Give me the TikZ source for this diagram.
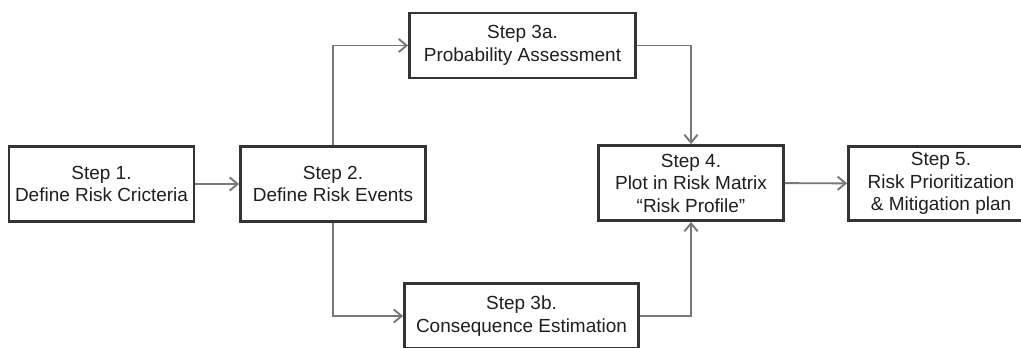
\documentclass[tikz,border=0pt]{standalone}
\usepackage{fontspec}
\setmainfont{Liberation Sans}
\usepackage{tikz}
\usetikzlibrary{arrows.meta}
\definecolor{myboxgray}{rgb}{0.2,0.2,0.2}
\definecolor{myarrowgray}{rgb}{0.47,0.47,0.47}
\definecolor{mytextgray}{rgb}{0.12,0.12,0.12}

\begin{document}
\begin{tikzpicture}[x=0.02cm,y=-0.02cm,
    stepbox/.style={draw=myboxgray,line width=1.6pt,fill=white,align=center,
      inner sep=0pt,text=mytextgray,font=\fontsize{10.8}{12.8}\selectfont},
    flowarrow/.style={draw=myarrowgray,line width=1.1pt,
      -{Straight Barb[length=4.5pt,width=7.5pt,line width=1.1pt]}}]
  \useasboundingbox (0,0) rectangle (1021,348);
  % boxes
  \node[stepbox,minimum width=3.7cm,minimum height=1.5cm] (s1) at (101.5,184) {Step 1.\\Define Risk Cricteria};
  \node[stepbox,minimum width=3.7cm,minimum height=1.5cm] (s2) at (333,184) {Step 2.\\Define Risk Events};
  \node[stepbox,minimum width=4.52cm,minimum height=1.3cm] (s3a) at (522.5,45.5) {Step 3a.\\Probability Assessment};
  \node[stepbox,minimum width=4.68cm,minimum height=1.3cm] (s3b) at (521.5,316) {Step 3b.\\Consequence Estimation};
  \node[stepbox,minimum width=3.7cm,minimum height=1.5cm] (s4) at (691,183) {Step 4.\\Plot in Risk Matrix\\``Risk Profile''};
  \node[stepbox,minimum width=3.7cm,minimum height=1.48cm] (s5) at (941,183.5) {Step 5.\\Risk Prioritization\\\& Mitigation plan};
  % connectors
  \draw[flowarrow] (s1) -- (s2);
  \draw[flowarrow] (s2.north) |- (s3a.west);
  \draw[flowarrow] (s2.south) |- (s3b.west);
  \draw[flowarrow] (s3a.east) -| (s4.north);
  \draw[flowarrow] (s3b.east) -| (s4.south);
  \draw[flowarrow] (s4) -- (s5);
\end{tikzpicture}
\end{document}
